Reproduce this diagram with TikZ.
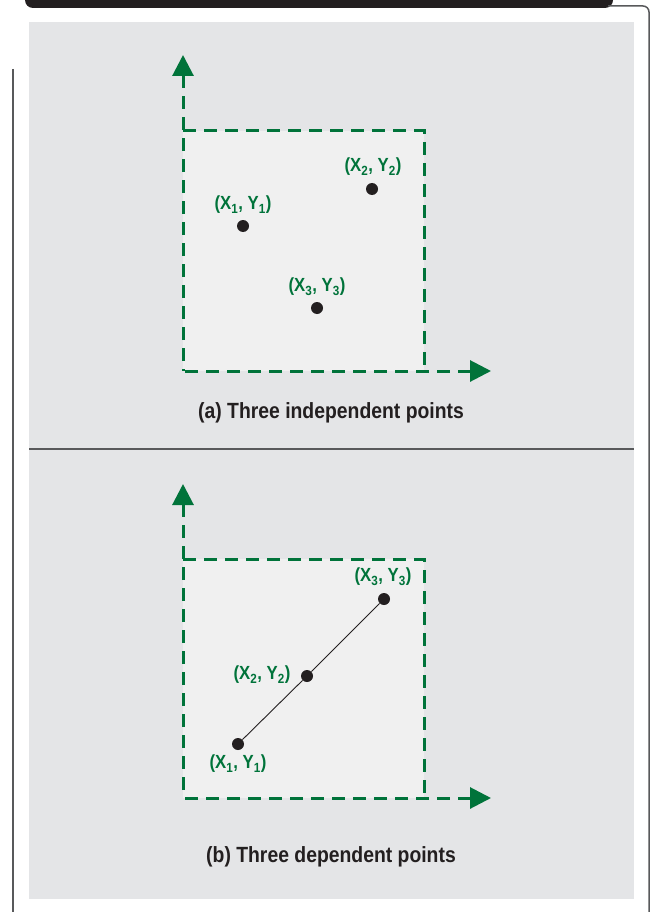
\documentclass[tikz,border=0pt]{standalone}
\usepackage{fontspec}
\setmainfont{Liberation Sans}
\newfontfamily\narrowfont[FakeStretch=0.88]{Liberation Sans}
\usetikzlibrary{arrows.meta}
\definecolor{axisgreen}{HTML}{00733A}
\definecolor{panelgray}{HTML}{E4E5E7}
\definecolor{boxgray}{HTML}{F0F0F0}
\definecolor{dotblack}{HTML}{231F20}
\definecolor{framegray}{HTML}{58595B}

\begin{document}
\begin{tikzpicture}[x=1pt, y=-1pt,
    axis/.style={draw=axisgreen, line width=3pt, dash pattern=on 13pt off 8pt, {Triangle[length=21pt, width=21pt]}-},
    boxedge/.style={draw=axisgreen, line width=3pt, dash pattern=on 13pt off 8pt},
    pt/.style={circle, fill=dotblack, inner sep=0pt, minimum size=12pt},
    ptlabel/.style={text=axisgreen, inner sep=0pt, font=\narrowfont\bfseries\fontsize{19}{21}\selectfont},
    caption/.style={text=dotblack, inner sep=0pt, font=\narrowfont\bfseries\fontsize{22}{24}\selectfont}]
\useasboundingbox (0,0) rectangle (652,912);
% frame and panel
\fill[dotblack, rounded corners=8pt] (25,-12) rectangle (613,8);
\draw[framegray, line width=1.5pt, rounded corners=6pt] (608,6) -- (649,6) -- (649,920);
\draw[framegray, line width=2pt] (13,69) -- (13,920);
\fill[panelgray] (29,22) rectangle (634,899);
\draw[framegray, line width=1.2pt] (29,449) -- (634,449);
% (a)
\coordinate (oa) at (183,371);
\coordinate (yatip) at (183,55);
\coordinate (xatip) at (491,371);
\fill[boxgray] (183,131) rectangle (424,371);
\draw[boxedge] (183,131) -- (424,131) -- (424,371);
\draw[axis] (yatip) -- (oa);
\draw[axis] (xatip) -- (oa);
\node[pt] (a1) at (243,226) {};
\node[pt] (a2) at (372,189) {};
\node[pt] (a3) at (317,308) {};
\node[ptlabel] (la1) at (243,205) {(X\textsubscript{1}, Y\textsubscript{1})};
\node[ptlabel] (la2) at (373,167) {(X\textsubscript{2}, Y\textsubscript{2})};
\node[ptlabel] (la3) at (317,287) {(X\textsubscript{3}, Y\textsubscript{3})};
\node[caption] (capa) at (331,413) {(a) Three independent points};
% (b)
\coordinate (ob) at (183,798);
\coordinate (ybtip) at (183,484);
\coordinate (xbtip) at (491,798);
\fill[boxgray] (183,559) rectangle (424,798);
\draw[boxedge] (183,559) -- (424,559) -- (424,798);
\draw[axis] (ybtip) -- (ob);
\draw[axis] (xbtip) -- (ob);
\node[pt] (b1) at (238,744) {};
\node[pt] (b2) at (307,676) {};
\node[pt] (b3) at (384,599) {};
\draw[dotblack, line width=0.9pt] (b1) -- (b2) -- (b3);
\node[ptlabel] (lb1) at (238,764) {(X\textsubscript{1}, Y\textsubscript{1})};
\node[ptlabel] (lb2) at (262,675) {(X\textsubscript{2}, Y\textsubscript{2})};
\node[ptlabel] (lb3) at (383,577) {(X\textsubscript{3}, Y\textsubscript{3})};
\node[caption] (capb) at (331,857) {(b) Three dependent points};
\end{tikzpicture}
\end{document}
